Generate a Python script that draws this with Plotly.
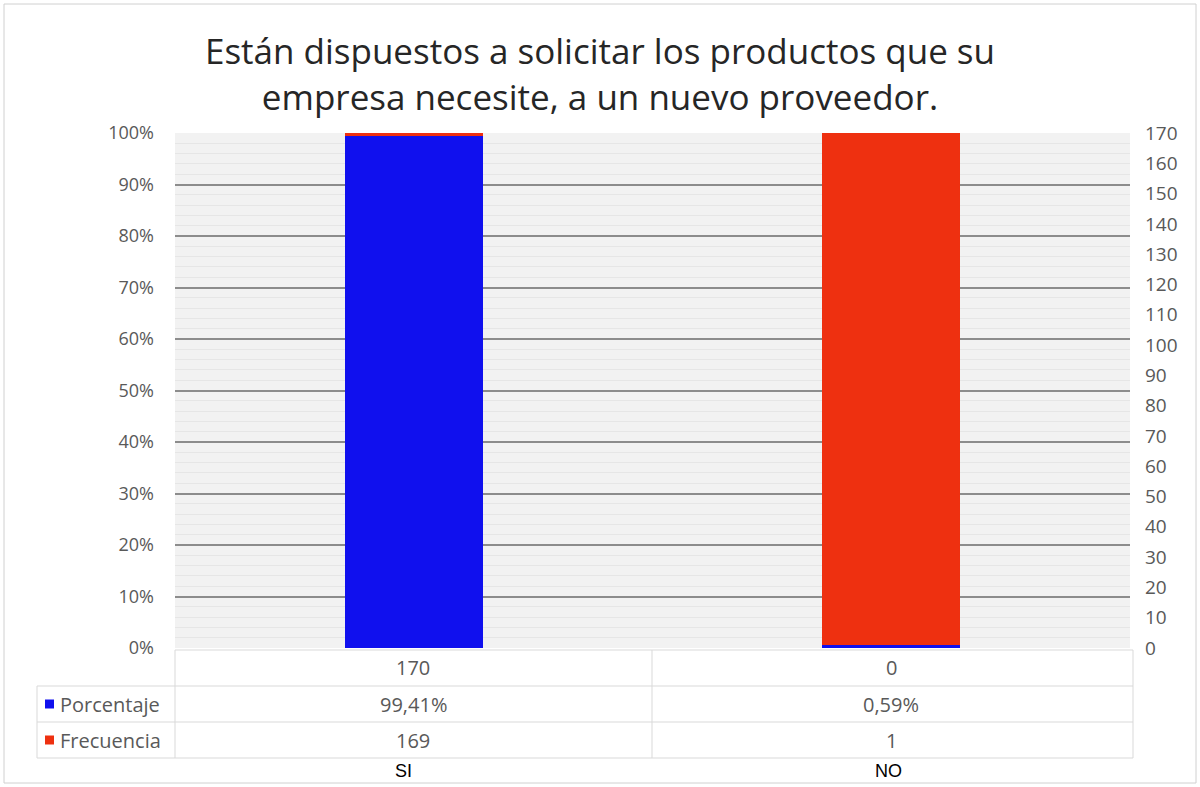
import plotly.graph_objects as go

# ---- data ----
titulo = "Están dispuestos a solicitar los productos que su<br>empresa necesite, a un nuevo proveedor."
etiquetas = ["SI", "NO"]
categorias = ["170", "0"]
porcentaje = [99.41, 0.59]          # %
frecuencia = [169, 1]
porcentaje_txt = ["99,41%", "0,59%"]
y_ticks = [0, 10, 20, 30, 40, 50, 60, 70, 80, 90, 100]
y2_ticks = list(range(0, 171, 10))

BLUE = "rgb(16,16,238)"
RED = "rgb(238,48,16)"
GRAY_TXT = "#595959"
FONT = "Open Sans"

# plot-area geometry in pixels
W_IMG, H_IMG = 1200, 787
L, R, T, B = 175, 1130, 133, 648
PW, PH = R - L, B - T


def px(x):
    return (x - L) / PW


def py(y):
    return (B - y) / PH


xpos = list(range(len(etiquetas)))
resto = [100 - p for p in porcentaje]

fig = go.Figure()
fig.add_trace(go.Bar(x=xpos, y=porcentaje, marker=dict(color=BLUE, line=dict(width=0)),
                     width=0.29, name="Porcentaje", showlegend=False, hoverinfo="skip"))
fig.add_trace(go.Bar(x=xpos, y=resto, marker=dict(color=RED, line=dict(width=0)),
                     width=0.29, name="Frecuencia", showlegend=False, hoverinfo="skip"))
# invisible trace to activate right axis
fig.add_trace(go.Scatter(x=xpos, y=frecuencia, yaxis="y2", mode="markers",
                         marker=dict(opacity=0), showlegend=False, hoverinfo="skip"))

shapes = []
annotations = []

# outer chart border
shapes.append(dict(type="rect", xref="paper", yref="paper",
                   x0=px(4), x1=px(1196), y0=py(4), y1=py(783),
                   line=dict(color="#d0d0d0", width=1), fillcolor="rgba(0,0,0,0)", layer="below"))

# data table lines
TL = "#d9d9d9"
rows_y = [650, 686, 722, 758]
shapes.append(dict(type="line", xref="paper", yref="paper", x0=px(L), x1=px(1133),
                   y0=py(rows_y[0]), y1=py(rows_y[0]), line=dict(color=TL, width=1)))
for yy in rows_y[1:]:
    shapes.append(dict(type="line", xref="paper", yref="paper", x0=px(37), x1=px(1133),
                       y0=py(yy), y1=py(yy), line=dict(color=TL, width=1)))
shapes.append(dict(type="line", xref="paper", yref="paper", x0=px(37), x1=px(37),
                   y0=py(686), y1=py(758), line=dict(color=TL, width=1)))
for xx in [L, 652, 1133]:
    shapes.append(dict(type="line", xref="paper", yref="paper", x0=px(xx), x1=px(xx),
                       y0=py(650), y1=py(758), line=dict(color=TL, width=1)))


def txt(xp, yp, s, size=20, color=GRAY_TXT, family=FONT, xanchor="center"):
    annotations.append(dict(x=px(xp), y=py(yp), xref="paper", yref="paper",
                            text=s, showarrow=False, xanchor=xanchor, yanchor="middle",
                            font=dict(family=family, size=size, color=color)))


# table text
centers = [413, 891]
for i in range(len(etiquetas)):
    txt(centers[i], 667, categorias[i])
    txt(centers[i], 704, porcentaje_txt[i])
    txt(centers[i], 740, str(frecuencia[i]))
    txt(centers[i] - 10 + 7 * i, 771, etiquetas[i], size=18, color="black", family="Arial")

# row headers with legend keys
for name, col, yy in [("Porcentaje", BLUE, 704), ("Frecuencia", RED, 740)]:
    shapes.append(dict(type="rect", xref="paper", yref="paper",
                       x0=px(45), x1=px(54), y0=py(yy - 4.5), y1=py(yy + 4.5),
                       fillcolor=col, line=dict(width=0)))
    txt(58, yy, name, xanchor="left")

fig.update_layout(
    width=W_IMG, height=H_IMG,
    margin=dict(l=L, r=W_IMG - R, t=T, b=H_IMG - B, autoexpand=False),
    paper_bgcolor="white",
    plot_bgcolor="#f2f2f2",
    barmode="stack",
    bargap=0,
    title=dict(text=titulo, x=0.5, xref="container", xanchor="center",
               y=1 - 64 / H_IMG, yref="container", yanchor="middle",
               font=dict(family=FONT, size=35, color="#262626")),
    xaxis=dict(range=[-0.5, 1.5], showticklabels=False, showgrid=False,
               zeroline=False, showline=False, fixedrange=True),
    yaxis=dict(range=[0, 100], tickvals=y_ticks, ticktext=[f"{v}%" for v in y_ticks],
               showgrid=True, gridcolor="#8c8c8c", gridwidth=1.5,
               zeroline=False, showline=False, ticks="",
               ticklabelstandoff=20,
               tickfont=dict(family=FONT, size=18, color=GRAY_TXT),
               minor=dict(dtick=2, showgrid=True, gridcolor="#e6e6e6", gridwidth=1)),
    yaxis2=dict(range=[0, 170], tickvals=y2_ticks, overlaying="y", side="right",
                showgrid=False, zeroline=False, showline=False, ticks="",
                ticklabelstandoff=14,
                tickfont=dict(family=FONT, size=19, color=GRAY_TXT)),
    shapes=shapes,
    annotations=annotations,
)

fig.write_html("out.html")
